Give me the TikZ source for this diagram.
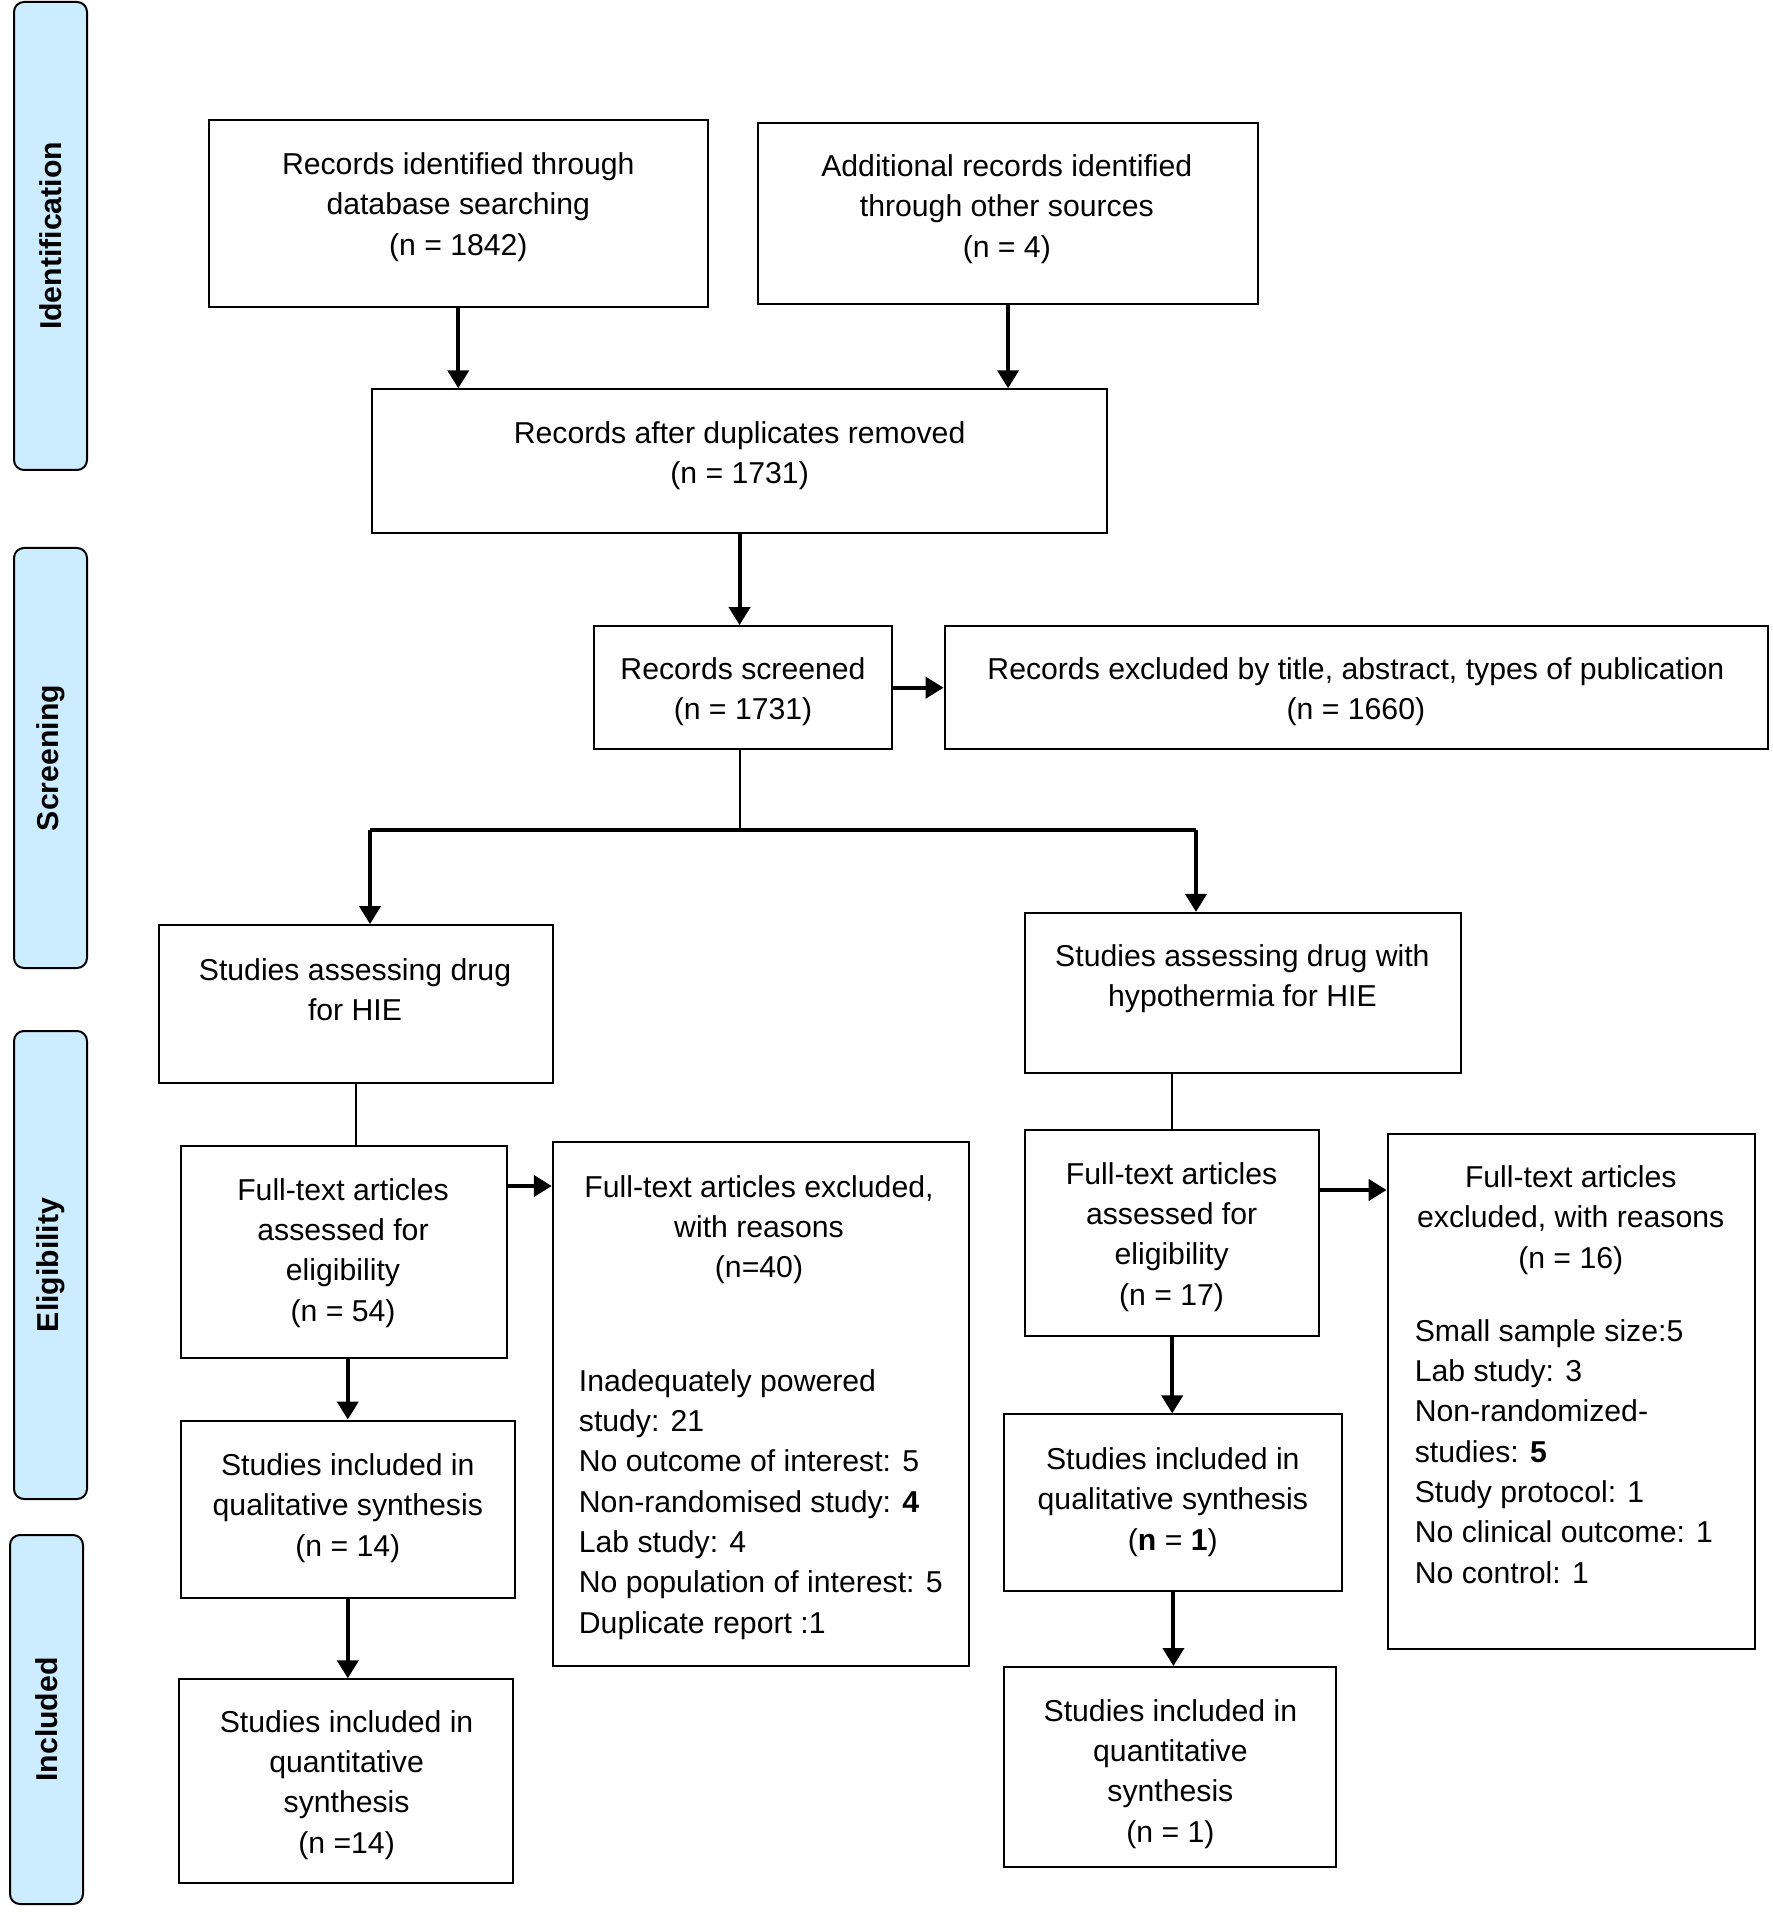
\documentclass[tikz,border=0pt]{standalone}
\usepackage{fontspec}
\setmainfont{Liberation Sans}
\usetikzlibrary{arrows.meta,fit}
\definecolor{barblue}{RGB}{204,236,255}
\begin{document}
\begin{tikzpicture}[x=0.5pt,y=-0.5pt,
  box/.style={draw=black,line width=1pt,inner sep=0pt,fill=white},
  bar/.style={draw=black,line width=1pt,inner sep=0pt,fill=barblue,rounded corners=5pt},
  txt/.style={inner sep=0pt,align=center,font=\fontsize{15.1}{20.15}\selectfont},
  lst/.style={inner sep=0pt,align=left,anchor=north west,font=\fontsize{15.1}{20.15}\selectfont},
  side/.style={inner sep=0pt,rotate=90,font=\fontsize{15.1}{18}\selectfont\bfseries},
  arr/.style={line width=2pt,-{Triangle[length=9pt,width=10.5pt]}},
  conn/.style={line width=1pt},
  hline/.style={line width=1.8pt}]
\useasboundingbox (0,0) rectangle (1772,1914);
% side bars
\node[bar,fit={(14,2) (87,470)}] (s1) {};
\node[bar,fit={(14,548) (87,968)}] (s2) {};
\node[bar,fit={(14,1031) (87,1499)}] (s3) {};
\node[bar,fit={(10,1535) (83,1904)}] (s4) {};
\node[side] (l1) at (s1.center) {Identification};
\node[side] (l2) at (s2.center) {Screening};
\node[side] (l3) at (s3.center) {Eligibility};
\node[side] (l4) at (s4.center) {Included};
% boxes
\node[box,fit={(208.7,119.6) (707.8,307.5)}] (b1) {};
\node[box,fit={(757.9,123.3) (1258.2,303.9)}] (b2) {};
\node[box,fit={(372.2,389.3) (1106.9,533.3)}] (b3) {};
\node[box,fit={(594.3,626.1) (892.1,749.3)}] (b4) {};
\node[box,fit={(944.6,626.1) (1768.4,749.3)}] (b5) {};
\node[box,fit={(158.7,925.1) (552.8,1082.5)}] (b6) {};
\node[box,fit={(1025.1,912.9) (1460.8,1072.7)}] (b7) {};
\node[box,fit={(180.6,1146) (506.5,1358.3)}] (b8) {};
\node[box,fit={(552.8,1142.3) (969,1665.8)}] (b9) {};
\node[box,fit={(1025.1,1130.1) (1319.3,1336.3)}] (b10) {};
\node[box,fit={(1387.6,1133.8) (1754.9,1648.8)}] (b11) {};
\node[box,fit={(180.6,1420.5) (515,1597.5)}] (b12) {};
\node[box,fit={(1004.4,1414.4) (1342.4,1591.4)}] (b13) {};
\node[box,fit={(179.4,1679.3) (512.6,1883.1)}] (b14) {};
\node[box,fit={(1004.4,1667) (1336.3,1867.2)}] (b15) {};
% texts
\node[txt] (t1) at (458.3,207) {Records identified through\\database searching\\(n = 1842)};
\node[txt] (t2) at (1006.8,209) {Additional records identified\\through other sources\\(n = 4)};
\node[txt] (t3) at (739.6,456) {Records after duplicates removed\\(n = 1731)};
\node[txt] (t4) at (743,692) {Records screened\\(n = 1731)};
\node[txt] (t5) at (1355.9,692) {Records excluded by title, abstract, types of publication\\(n = 1660)};
\node[txt] (t6) at (355,990) {Studies assessing drug\\for HIE};
\node[txt] (t7) at (1242.4,979) {Studies assessing drug with\\hypothermia for HIE};
\node[txt] (t8) at (343,1253) {Full-text articles\\assessed for\\eligibility\\(n = 54)};
\node[txt] (t9) at (759,1229.5) {Full-text articles excluded,\\with reasons\\(n=40)};
\node[lst] (t9l) at (578.5,1369) {Inadequately powered\\study: 21\\No outcome of interest: 5\\Non-randomised study: \textbf{4}\\Lab study: 4\\No population of interest: 5\\Duplicate report :1};
\node[txt] (t10) at (1171.6,1237) {Full-text articles\\assessed for\\eligibility\\(n = 17)};
\node[txt] (t11) at (1570.7,1220) {Full-text articles\\excluded, with reasons\\(n = 16)};
\node[lst] (t11l) at (1414.4,1319) {Small sample size:5\\Lab study: 3\\Non-randomized-\\studies: \textbf{5}\\Study protocol: 1\\No clinical outcome: 1\\No control: 1};
\node[txt] (t12) at (347.8,1508) {Studies included in\\qualitative synthesis\\(n = 14)};
\node[txt] (t13) at (1172.8,1502) {Studies included in\\qualitative synthesis\\(\textbf{n} = \textbf{1})};
\node[txt] (t14) at (346.6,1785) {Studies included in\\quantitative\\synthesis\\(n =14)};
\node[txt] (t15) at (1170.4,1774) {Studies included in\\quantitative\\synthesis\\(n = 1)};
% junction coordinates
\coordinate (jL) at (370,830);
\coordinate (jR) at (1196,830);
\coordinate (y89) at (0,1186);
\coordinate (y1011) at (0,1190);
% connectors
\draw[arr] (b1.south) -- (b1.south |- b3.north);
\draw[arr] (b2.south) -- (b2.south |- b3.north);
\draw[arr] (b3.south) -- (b3.south |- b4.north);
\draw[arr] (b4.east) -- (b5.west);
\draw[conn] (b3.south |- b4.south) -- (b3.south |- jL);
\draw[hline] (jL) -- (jR);
\draw[arr] (jL) -- (jL |- b6.north);
\draw[arr] (jR) -- (jR |- b7.north);
\draw[conn] (b6.south) -- (b6.south |- b8.north);
\draw[arr] (b8.east |- y89) -- (b9.west |- y89);
\draw[arr] (b12.north |- b8.south) -- (b12.north);
\draw[arr] (b12.south) -- (b12.south |- b14.north);
\draw[conn] (b10.north |- b7.south) -- (b10.north);
\draw[arr] (b10.east |- y1011) -- (b11.west |- y1011);
\draw[arr] (b10.south) -- (b10.south |- b13.north);
\draw[arr] (b13.south) -- (b13.south |- b15.north);
\end{tikzpicture}
\end{document}
